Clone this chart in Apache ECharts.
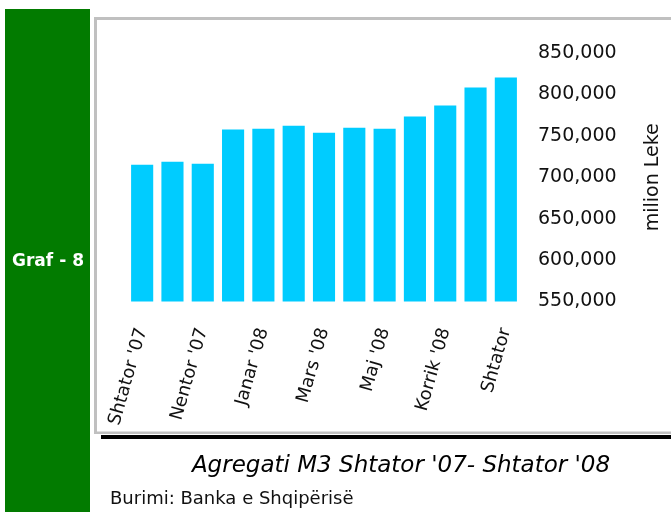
<!DOCTYPE html>
<html>
<head>
<meta charset="utf-8">
<script src="https://cdn.jsdelivr.net/npm/echarts@6/dist/echarts.min.js"></script>
<style>
  html, body { margin: 0; padding: 0; background: #fff; }
  #main { width: 671px; height: 512px; }
</style>
</head>
<body>
<div id="main"></div>
<script>
// muajt, nga Shtator '07 deri Shtator '08
const months = ["Shtator '07", "Tetor '07", "Nentor '07", "Dhjetor '07", "Janar '08", "Shkurt '08",
  "Mars '08", "Prill '08", "Maj '08", "Qershor '08", "Korrik '08", "Gusht '08", "Shtator"];
// agregati M3, milion Leke
const m3Values = [715100, 718800, 716300, 757500, 758700, 762300, 753800, 759900, 758700, 773200, 786500, 808300, 820400];
const yMin = 550000;
const yMax = 850000;
const yStep = 50000;

const titleText = "Agregati M3 Shtator '07- Shtator '08";
const sourceText = 'Burimi: Banka e Shqipërisë';
const sideText = 'Graf - 8';
const unitText = 'milion Leke';

const font = '"DejaVu Sans", sans-serif';
const chart = echarts.init(document.getElementById('main'), null, { renderer: 'canvas' });

let option = {
    animation: false,
    backgroundColor: '#fff',
    grid: { left: 127, right: 149, top: 53, bottom: 210.5, containLabel: false },
    xAxis: {
        type: 'category',
        data: months,
        axisLine: { show: false },
        axisTick: { show: false },
        axisLabel: {
            interval: 1,
            rotate: 74,
            margin: 27,
            color: '#111',
            fontFamily: font,
            fontSize: 18
        }
    },
    yAxis: {
        type: 'value',
        position: 'right',
        min: yMin,
        max: yMax,
        interval: yStep,
        splitLine: { show: false },
        axisLine: { show: false },
        axisTick: { show: false },
        axisLabel: {
            margin: 17,
            color: '#111',
            fontFamily: font,
            fontSize: 19,
            formatter: v => v.toLocaleString('en-US')
        },
        name: unitText,
        nameLocation: 'middle',
        nameRotate: 90,
        nameGap: 123,
        nameTextStyle: { color: '#111', fontFamily: font, fontSize: 19 }
    },
    series: [{
        type: 'bar',
        data: m3Values,
        barCategoryGap: '27%',
        itemStyle: { color: '#00ccff' }
    }],
    graphic: [
        // shiriti jeshil majtas
        { type: 'rect', z: -10, shape: { x: 5, y: 9, width: 85, height: 503 }, style: { fill: '#027b00' } },
        { type: 'text', z: 10, style: { x: 48, y: 262, text: sideText, fill: '#fff', font: 'bold 17px ' + font, align: 'center', verticalAlign: 'middle' } },
        // korniza gri + hija e zeze
        { type: 'rect', z: -10, shape: { x: 101, y: 435, width: 570, height: 4 }, style: { fill: '#000' } },
        { type: 'rect', z: -10, shape: { x: 94, y: 17, width: 577, height: 3 }, style: { fill: '#c0c0c0' } },
        { type: 'rect', z: -10, shape: { x: 94, y: 17, width: 3, height: 417 }, style: { fill: '#c0c0c0' } },
        { type: 'rect', z: -10, shape: { x: 94, y: 431.5, width: 577, height: 2.5 }, style: { fill: '#c0c0c0' } },
        // titulli dhe burimi
        { type: 'text', style: { x: 401, y: 466, text: titleText, fill: '#000', font: 'italic 23px ' + font, align: 'center', verticalAlign: 'middle' } },
        { type: 'text', style: { x: 110, y: 499, text: sourceText, fill: '#111', font: '18px ' + font, align: 'left', verticalAlign: 'middle' } }
    ]
};
option && chart.setOption(option);
</script>
</body>
</html>
